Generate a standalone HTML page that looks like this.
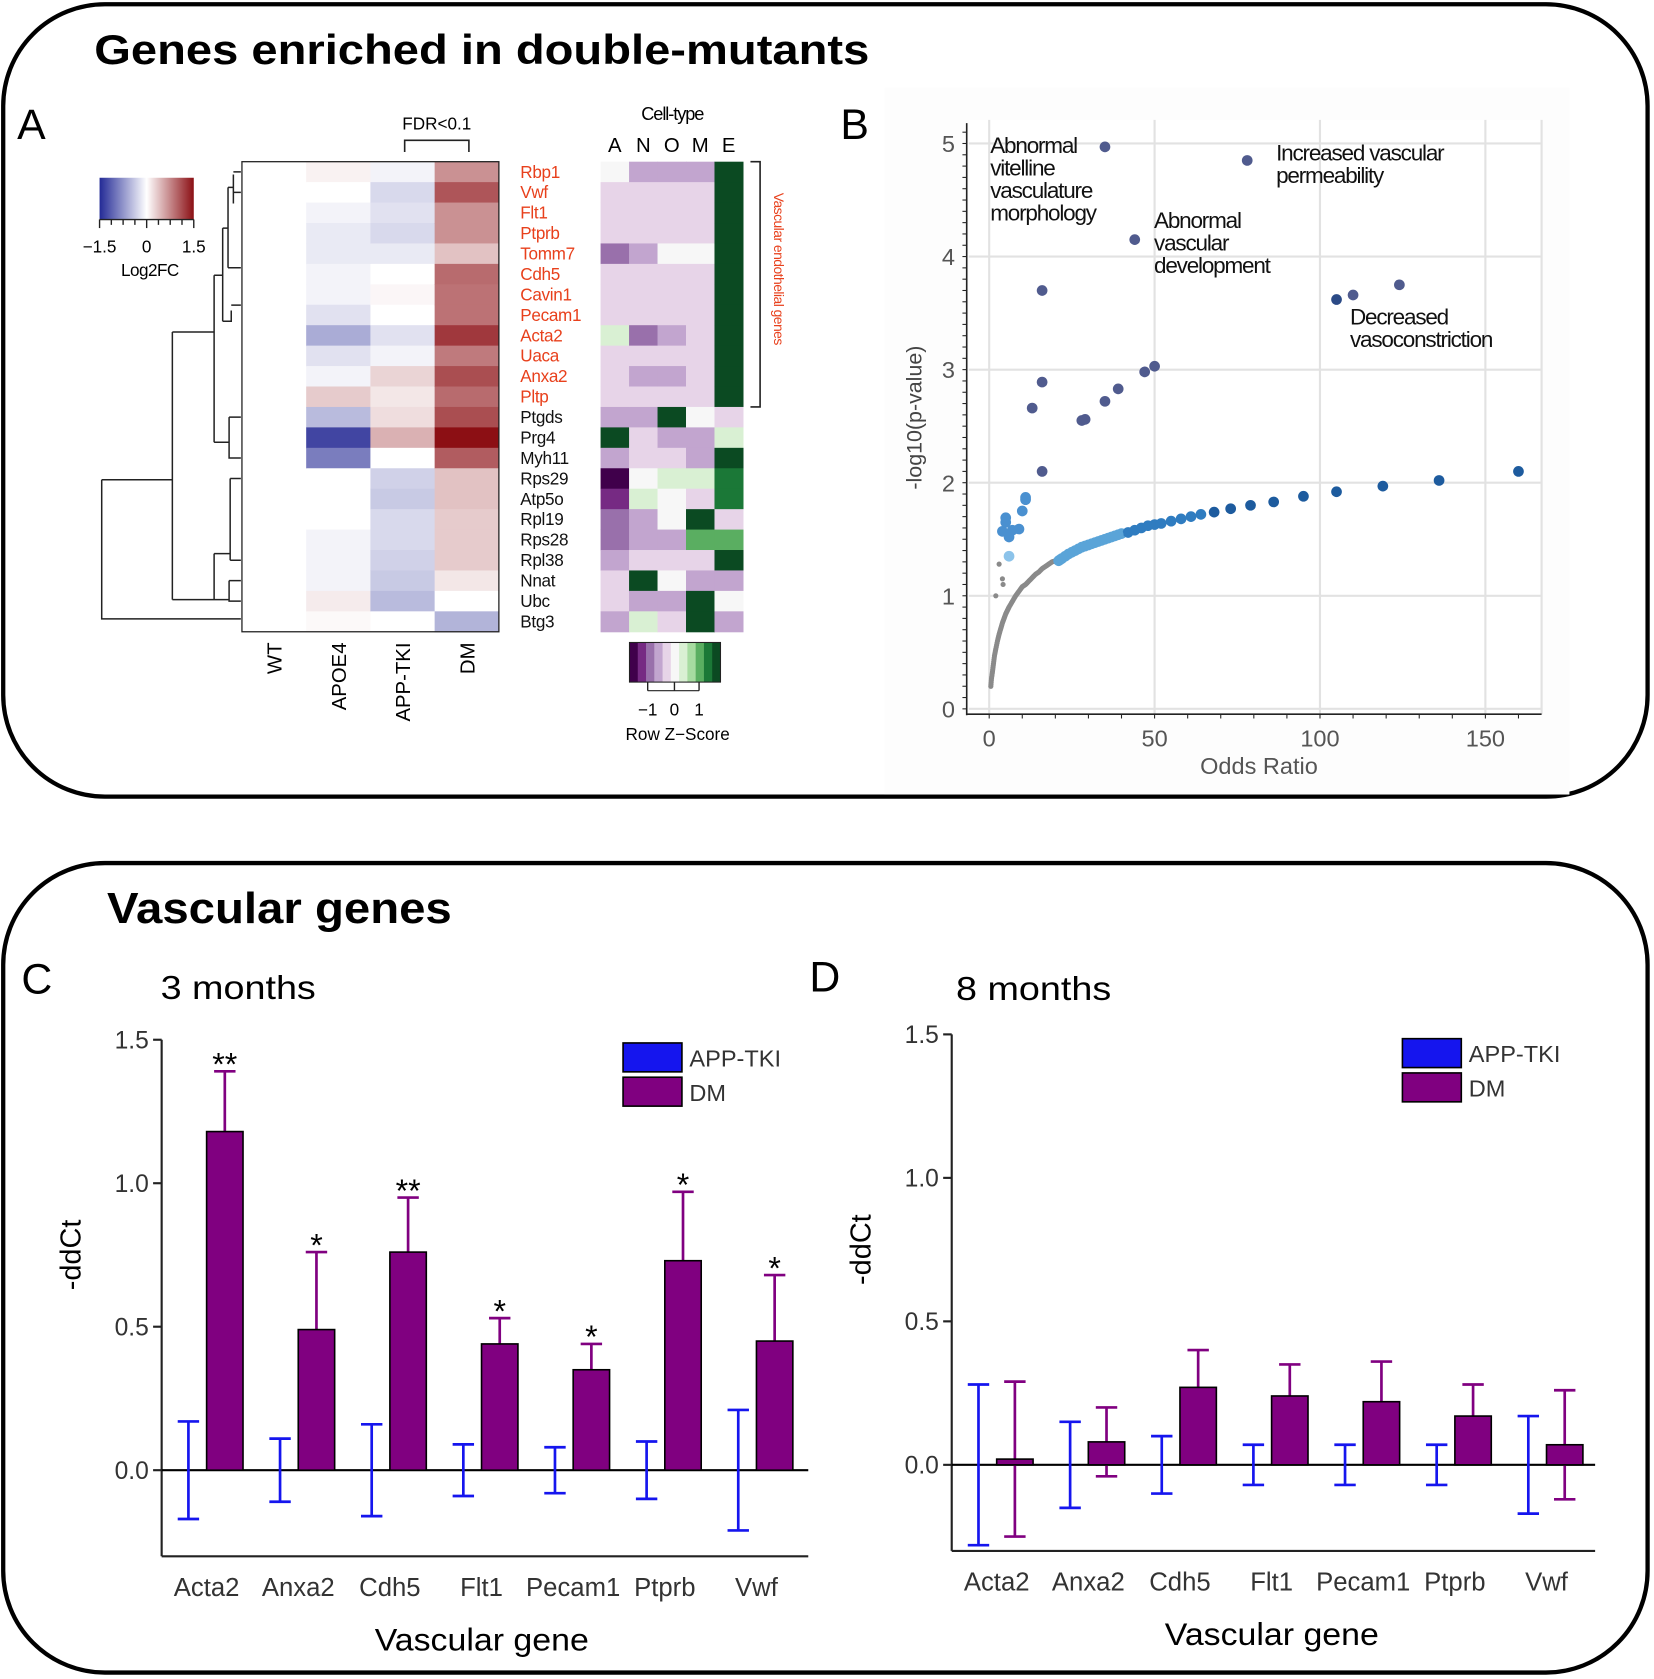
<!DOCTYPE html>
<html><head><meta charset="utf-8"><style>
html,body{margin:0;padding:0;background:#fff;}
svg{display:block;font-family:"Liberation Sans",Arial,sans-serif;}
</style></head><body>
<svg id="fig" width="1654" height="1679" viewBox="0 0 1545 1568" preserveAspectRatio="none" xmlns="http://www.w3.org/2000/svg">
<rect x="3" y="4" width="1536" height="740" rx="95" fill="none" stroke="#000" stroke-width="4"/>
<rect x="3" y="806" width="1536" height="756" rx="95" fill="none" stroke="#000" stroke-width="4"/>
<text x="88" y="60" font-size="39" font-weight="bold" textLength="724" lengthAdjust="spacingAndGlyphs">Genes enriched in double-mutants</text>
<text x="100" y="862" font-size="41" font-weight="bold" textLength="322" lengthAdjust="spacingAndGlyphs">Vascular genes</text>
<text x="16" y="130" font-size="40">A</text>
<text x="785" y="130" font-size="40">B</text>
<text x="20" y="928" font-size="40">C</text>
<text x="756" y="926" font-size="40">D</text>
<text x="150" y="933" font-size="31" textLength="145" lengthAdjust="spacingAndGlyphs">3 months</text>
<text x="893" y="934" font-size="31" textLength="145" lengthAdjust="spacingAndGlyphs">8 months</text>
<g id="gA"></g>
<g id="gB"></g>
<g id="gC"></g>
<g id="gD"></g>
</svg>
<script>
// ---------- Panel A data ----------
const genes = ["Rbp1","Vwf","Flt1","Ptprb","Tomm7","Cdh5","Cavin1","Pecam1","Acta2","Uaca","Anxa2","Pltp","Ptgds","Prg4","Myh11","Rps29","Atp5o","Rpl19","Rps28","Rpl38","Nnat","Ubc","Btg3"];
const groupsA = ["WT","APOE4","APP-TKI","DM"];
const fcWT = [0,0,0,0,0,0,0,0,0,0,0,0,0,0,0,0,0,0,0,0,0,0,0];
const fcAPOE4 = [0.05,0,-0.05,-0.1,-0.1,-0.05,-0.05,-0.15,-0.5,-0.15,-0.05,0.25,-0.4,-1.3,-0.85,0,0,0,-0.05,-0.05,-0.05,0.08,0.02];
const fcAPP = [-0.05,-0.2,-0.15,-0.2,-0.1,0,0.03,0,-0.15,-0.05,0.2,0.1,0.15,0.4,0,-0.25,-0.3,-0.2,-0.2,-0.25,-0.3,-0.4,0];
const fcDM = [0.6,1.0,0.6,0.6,0.3,0.85,0.8,0.8,1.2,0.75,1.05,0.85,1.05,1.5,0.95,0.3,0.3,0.25,0.25,0.25,0.1,0,-0.45];
const cellTypes = ["A","N","O","M","E"];
const zA = [0,-0.5,-0.5,-0.5,-1.2,-0.5,-0.5,-0.5,0.4,-0.5,-0.5,-0.5,-0.8,2,-0.8,-2,-1.6,-1.2,-1.2,-0.8,-0.5,-0.5,-0.8];
const zN = [-0.8,-0.5,-0.5,-0.5,-0.8,-0.5,-0.5,-0.5,-1.2,-0.5,-0.8,-0.5,-0.8,-0.5,-0.5,0,0.4,-0.8,-0.8,-0.5,2,-0.8,0.4];
const zO = [-0.8,-0.5,-0.5,-0.5,0,-0.5,-0.5,-0.5,-0.8,-0.5,-0.8,-0.5,2,-0.8,-0.5,0.4,0,0,-0.8,-0.5,0,-0.8,-0.5];
const zM = [-0.8,-0.5,-0.5,-0.5,0,-0.5,-0.5,-0.5,-0.5,-0.5,-0.5,-0.5,0,-0.8,-0.8,0.4,-0.5,2,1.1,-0.5,-0.8,2,2];
const zE = [2,2,2,2,2,2,2,2,2,2,2,2,-0.5,0.4,2,1.5,1.5,-0.5,1.1,2,-0.8,0,-0.8];

// ---------- Panel B data ----------
const sigX = [35,78,44,16,105,110,124,16,13,29,28,35,39,47,50,16];
const sigY = [4.97,4.85,4.15,3.70,3.62,3.66,3.75,2.89,2.66,2.56,2.55,2.72,2.83,2.98,3.03,2.10];
const lbX = [4,5,5,6,7,9,10,11,11,6];
const lbY = [1.57,1.65,1.69,1.52,1.58,1.59,1.75,1.85,1.87,1.35];
const curveX = [21,22,24,26,28,30,32,34,36,38,40,42,44,46,48,50,52,55,58,61,64,68,73,79,86,95,105,119,136,160];
const curveY = [1.31,1.33,1.37,1.40,1.43,1.45,1.47,1.49,1.51,1.53,1.55,1.56,1.58,1.60,1.62,1.63,1.64,1.66,1.68,1.70,1.72,1.74,1.77,1.80,1.83,1.88,1.92,1.97,2.02,2.10];
const grayX = [0.5,0.7,1,1.3,1.6,2,2.5,3,3.5,4,4.5,5,5.5,6,7,8,9,10,11,12,13,14,15,16,17,18,19,20,2,3,4,4.2];
const grayY = [0.2,0.27,0.33,0.4,0.47,0.53,0.6,0.66,0.71,0.76,0.8,0.84,0.87,0.9,0.95,1.0,1.04,1.08,1.1,1.13,1.16,1.19,1.21,1.24,1.26,1.28,1.3,1.31,1.0,1.28,1.15,1.1];
const bXTicks = [0,50,100,150];
const bYTicks = [0,1,2,3,4,5];

// ---------- Panel C/D data ----------
const vgenes = ["Acta2","Anxa2","Cdh5","Flt1","Pecam1","Ptprb","Vwf"];
const c_app = [0,0,0,0,0,0,0];
const c_appErr = [0.17,0.11,0.16,0.09,0.08,0.10,0.21];
const c_dm = [1.18,0.49,0.76,0.44,0.35,0.73,0.45];
const c_dmErr = [0.21,0.27,0.19,0.09,0.09,0.24,0.23];
const c_stars = ["**","*","**","*","*","*","*"];
const d_app = [0,0,0,0,0,0,0];
const d_appErr = [0.28,0.15,0.10,0.07,0.07,0.07,0.17];
const d_dm = [0.02,0.08,0.27,0.24,0.22,0.17,0.07];
const d_dmErr = [0.27,0.12,0.13,0.11,0.14,0.11,0.19];
const barTicks = [0,0.5,1.0,1.5];
const barTickLabels = ["0.0","0.5","1.0","1.5"];

const NS="http://www.w3.org/2000/svg";
function mk(parent,tag,attrs,text){const e=document.createElementNS(NS,tag);for(const k in attrs)e.setAttribute(k,attrs[k]);if(text!==undefined)e.textContent=text;parent.appendChild(e);return e;}

// ===== Panel A =====
(function(){
  const g=document.getElementById('gA');
  const hx0=226, hw=60, hy0=151, rh=(590-151)/genes.length;
  const cols=[fcWT,fcAPOE4,fcAPP,fcDM];
  function fcColor(v){
    v=Math.max(-1.5,Math.min(1.5,v));
    let t=Math.abs(v)/1.5, c0=[255,255,255], c1=v<0?[40,45,150]:[140,15,20];
    t=Math.pow(t,0.85);
    return `rgb(${c0.map((c,i)=>Math.round(c+(c1[i]-c)*t)).join(',')})`;
  }
  cols.forEach((arr,ci)=>{
    arr.forEach((v,ri)=>{
      const r=mk(g,'rect',{x:hx0+ci*hw,y:hy0+ri*rh,width:hw+0.5,height:rh+0.5,fill:fcColor(v)});
      
      
    });
    const t=mk(g,'text',{x:0,y:0,'font-size':19,transform:`translate(${hx0+ci*hw+hw/2+7},600) rotate(-90)`,'text-anchor':'end'},groupsA[ci]);
    
    
  });
  mk(g,'rect',{x:hx0,y:hy0,width:hw*4,height:rh*genes.length,fill:'none',stroke:'#222','stroke-width':1.2});
  genes.forEach((n,i)=>{
    const t=mk(g,'text',{x:486,y:hy0+(i+0.5)*rh+5.5,'font-size':16,fill:i<12?'#e8401c':'#111','letter-spacing':'-0.3'},n);
    
    
  });
  mk(g,'text',{x:408,y:121,'font-size':16,'text-anchor':'middle'},'FDR<0.1');
  mk(g,'path',{d:'M378,142 V131 H438 V142',fill:'none',stroke:'#222','stroke-width':1.5});
  const pal=['#40004b','#762a83','#9970ab','#c2a5cf','#e7d4e8','#f7f7f7','#d9f0d3','#a6dba0','#5aae61','#1b7837','#0b4a22'];
  function zColor(v){const b=[-1.8,-1.4,-1.0,-0.65,-0.25,0.25,0.6,0.9,1.3,1.7];let i=0;while(i<b.length&&v>b[i])i++;return pal[i];}
  const zx0=561, zw=(694-561)/5;
  [zA,zN,zO,zM,zE].forEach((arr,ci)=>{
    arr.forEach((v,ri)=>{
      const r=mk(g,'rect',{x:zx0+ci*zw,y:hy0+ri*rh,width:zw+0.5,height:rh+0.5,fill:zColor(v)});
      
      
    });
    mk(g,'text',{x:zx0+ci*zw+zw/2,y:142,'font-size':19,'text-anchor':'middle'},cellTypes[ci]);
  });
  mk(g,'text',{x:628,y:112,'font-size':17,'text-anchor':'middle','letter-spacing':'-1'},'Cell-type');
  mk(g,'path',{d:`M701,${hy0} H710 V380 H701`,fill:'none',stroke:'#222','stroke-width':1.5});
  mk(g,'text',{x:0,y:0,'font-size':13,fill:'#e8401c',transform:'translate(723,180) rotate(90)','letter-spacing':'-0.5'},'Vascular endothelial genes');
  const defs=mk(g,'defs',{});
  const lg=mk(defs,'linearGradient',{id:'fcg',x1:0,x2:1,y1:0,y2:0});
  [[0,'#232a96'],[0.5,'#ffffff'],[1,'#8b0f14']].forEach(s=>mk(lg,'stop',{offset:s[0],'stop-color':s[1]}));
  mk(g,'rect',{x:93,y:166,width:88,height:39,fill:'url(#fcg)'});
  for(let i=0;i<=8;i++){mk(g,'line',{x1:93+i*11,x2:93+i*11,y1:205,y2:i%4==0?213:210,stroke:'#222','stroke-width':1.3});}
  mk(g,'line',{x1:93,x2:181,y1:205,y2:205,stroke:'#222','stroke-width':1.3});
  mk(g,'text',{x:93,y:236,'font-size':16,'text-anchor':'middle'},'\u22121.5');
  mk(g,'text',{x:137,y:236,'font-size':16,'text-anchor':'middle'},'0');
  mk(g,'text',{x:181,y:236,'font-size':16,'text-anchor':'middle'},'1.5');
  mk(g,'text',{x:140,y:258,'font-size':16,'text-anchor':'middle','letter-spacing':'-0.5'},'Log2FC');
  const zbw=(673-588)/pal.length;
  pal.forEach((c,i)=>mk(g,'rect',{x:588+i*zbw,y:600,width:zbw+0.5,height:37,fill:c}));
  mk(g,'rect',{x:588,y:600,width:85,height:37,fill:'none',stroke:'#222','stroke-width':1});
  [[605,'\u22121'],[630,'0'],[653,'1']].forEach(p=>{mk(g,'line',{x1:p[0],x2:p[0],y1:637,y2:645,stroke:'#222','stroke-width':1.3});mk(g,'text',{x:p[0],y:668,'font-size':16,'text-anchor':'middle'},p[1]);});
  mk(g,'line',{x1:605,x2:653,y1:645,y2:645,stroke:'#222','stroke-width':1});
  mk(g,'text',{x:633,y:691,'font-size':16,'text-anchor':'middle'},'Row Z\u2212Score');
  const yc=i=>hy0+(i+0.5)*rh;
  const dpath=`M95,448 V578 H225 M95,448 H161 M161,310 V560 M161,310 H200 M200,257 V413 M200,257 H208 M208,213 V300 M208,300 H216 V290 M216,285 H225 M208,213 H213 M213,175 V250 M213,175 H218 M218,163 V190 M218,${yc(0)} H225 M218,${yc(1)} H225 M213,250 H225 M200,413 H214 M214,${yc(12)} V${yc(14)} H225 M214,${yc(12)} H225 M161,560 H200 M200,517 V560 M200,517 H215 M215,${yc(15)} V${yc(19)} M200,560 H214 M214,${yc(20)} V${yc(21)} H225 M214,${yc(20)} H225 M215,${yc(15)} H225 M215,${yc(19)} H225`;
  const dp=mk(g,'path',{d:dpath,fill:'none',stroke:'#222','stroke-width':1.4});
  
  
})();

// ===== Panel B =====
(function(){
  const g=document.getElementById('gB');
  const X=v=>924+v*3.09, Y=v=>662-v*105.6;
  mk(g,'rect',{x:826,y:82,width:640,height:660,fill:'#fdfdfd'});
  mk(g,'rect',{x:905,y:112,width:535,height:555,fill:'#fff'});
  bXTicks.forEach(t=>mk(g,'line',{x1:X(t),x2:X(t),y1:112,y2:667,stroke:'#e2e2e2','stroke-width':2}));
  bYTicks.forEach(t=>mk(g,'line',{x1:905,x2:1440,y1:Y(t),y2:Y(t),stroke:'#e2e2e2','stroke-width':2}));
  mk(g,'line',{x1:1440,x2:1440,y1:112,y2:667,stroke:'#e2e2e2','stroke-width':2});
  mk(g,'line',{x1:903,x2:903,y1:115,y2:668,stroke:'#222','stroke-width':1.5});
  mk(g,'line',{x1:903,x2:1440,y1:667,y2:667,stroke:'#222','stroke-width':1.5});
  for(let v=0;v<=5.1;v+=0.1){mk(g,'line',{x1:899,x2:903,y1:Y(v),y2:Y(v),stroke:'#222','stroke-width':1});}
  for(let v=0;v<=160;v+=10){mk(g,'line',{x1:X(v),x2:X(v),y1:667,y2:671,stroke:'#222','stroke-width':1});}
  bYTicks.forEach(t=>{const e=mk(g,'text',{x:892,y:Y(t)+8,'font-size':22,fill:'#555','text-anchor':'end'},String(t));});
  bXTicks.forEach(t=>{const e=mk(g,'text',{x:X(t),y:697,'font-size':22,fill:'#555','text-anchor':'middle'},String(t));});
  const xt=mk(g,'text',{x:1176,y:723,'font-size':22,fill:'#555','text-anchor':'middle'},'Odds Ratio');
  
  const yt=mk(g,'text',{x:0,y:0,'font-size':20,fill:'#444','text-anchor':'middle',transform:'translate(861,390) rotate(-90)'},'-log10(p-value)');
  
  grayX.forEach((x,i)=>{const c=mk(g,'circle',{cx:X(x),cy:Y(grayY[i]),r:2.4,fill:'#8a8a8a'});});
  for(let i=0;i<27;i++){for(let k=1;k<4;k++){const x=grayX[i]+(grayX[i+1]-grayX[i])*k/4,y=grayY[i]+(grayY[i+1]-grayY[i])*k/4;mk(g,'circle',{cx:X(x),cy:Y(y),r:2.4,fill:'#8a8a8a'});}}
  curveX.forEach((x,i)=>{
    const t=i/(curveX.length-1);
    const col=t<0.35?'#5aa4d8':(t<0.7?'#2f7cc0':'#1d5b9e');
    const c=mk(g,'circle',{cx:X(x),cy:Y(curveY[i]),r:5,fill:col});
    
    
  });
  for(let i=0;i<10;i++){const x=curveX[i]+(curveX[i+1]-curveX[i])/2,y=(curveY[i]+curveY[i+1])/2;mk(g,'circle',{cx:X(x),cy:Y(y),r:5,fill:'#5aa4d8'});}
  lbX.forEach((x,i)=>{const c=mk(g,'circle',{cx:X(x),cy:Y(lbY[i]),r:5,fill:i==9?'#8cc3ea':'#4a90d0'});});
  sigX.forEach((x,i)=>{const c=mk(g,'circle',{cx:X(x),cy:Y(sigY[i]),r:5,fill:i==4?'#2b4a86':'#505b8e'});});
  const ann=[[925,143,['Abnormal','vitelline','vasculature','morphology']],[1192,150,['Increased vascular','permeability']],[1078,213,['Abnormal','vascular','development']],[1261,303,['Decreased','vasoconstriction']]];
  ann.forEach(a=>a[2].forEach((s,j)=>{const e=mk(g,'text',{x:a[0],y:a[1]+j*21,'font-size':21,fill:'#111','letter-spacing':'-1.1'},s);}));
})();

// ===== Panels C/D =====
function barChart(id,ax,zeroY,right,app,appErr,dm,dmErr,stars,groupStart,legX,legY,titleX){
  const g=document.getElementById(id);
  const Y=v=>zeroY-v*268;
  const bottom=Y(-0.3);
  mk(g,'line',{x1:ax,x2:ax,y1:Y(1.5),y2:bottom,stroke:'#222','stroke-width':2});
  mk(g,'line',{x1:ax,x2:right,y1:bottom,y2:bottom,stroke:'#222','stroke-width':2});
  mk(g,'line',{x1:ax,x2:right,y1:Y(0),y2:Y(0),stroke:'#000','stroke-width':2});
  barTicks.forEach((t,i)=>{
    mk(g,'line',{x1:ax-8,x2:ax,y1:Y(t),y2:Y(t),stroke:'#222','stroke-width':2});
    const e=mk(g,'text',{x:ax-12,y:Y(t)+8,'font-size':23,fill:'#333','text-anchor':'end'},barTickLabels[i]);
    
  });
  const sp=85.6;
  vgenes.forEach((n,i)=>{
    const cx=groupStart+i*sp;
    const bx=cx, dx=cx+34;
    const a=mk(g,'rect',{x:bx-17,y:Math.min(Y(app[i]),Y(0)),width:34,height:Math.abs(Y(app[i])-Y(0)),fill:'#1515ee',stroke:'#000','stroke-width':1.5});
    
    const ea=mk(g,'path',{d:`M${bx},${Y(app[i]+appErr[i])} V${Y(app[i]-appErr[i])} M${bx-10},${Y(app[i]+appErr[i])} H${bx+10} M${bx-10},${Y(app[i]-appErr[i])} H${bx+10}`,stroke:'#1515ee','stroke-width':2.5,fill:'none'});
    
    const ed=mk(g,'path',{d:`M${dx},${Y(dm[i]+dmErr[i])} V${Y(dm[i]-dmErr[i])} M${dx-10},${Y(dm[i]+dmErr[i])} H${dx+10} M${dx-10},${Y(dm[i]-dmErr[i])} H${dx+10}`,stroke:'#800080','stroke-width':2.5,fill:'none'});
    
    const b=mk(g,'rect',{x:dx-17,y:Math.min(Y(dm[i]),Y(0)),width:34,height:Math.abs(Y(dm[i])-Y(0)),fill:'#800080',stroke:'#000','stroke-width':1.5});
    
    if(stars){const s=mk(g,'text',{x:dx,y:Y(dm[i]+dmErr[i])+4,'font-size':30,'text-anchor':'middle'},stars[i]);}
    const t=mk(g,'text',{x:cx+17,y:bottom+37,'font-size':24,fill:'#333','text-anchor':'middle'},n);
    
  });
  const yt=mk(g,'text',{x:0,y:0,'font-size':27,'text-anchor':'middle',transform:`translate(${ax-76},${Y(0.75)}) rotate(-90)`},'-ddCt');
  
  const xt=mk(g,'text',{x:titleX,y:bottom+88,'font-size':29,'text-anchor':'middle',textLength:200,lengthAdjust:'spacingAndGlyphs'},'Vascular gene');
  
  const l1=mk(g,'rect',{x:legX,y:legY,width:55,height:27,fill:'#1515ee',stroke:'#000','stroke-width':1.5});
  
  const l2=mk(g,'rect',{x:legX,y:legY+32,width:55,height:27,fill:'#800080',stroke:'#000','stroke-width':1.5});
  
  const t1=mk(g,'text',{x:legX+62,y:legY+22,'font-size':22,fill:'#333'},'APP-TKI');
  
  const t2=mk(g,'text',{x:legX+62,y:legY+54,'font-size':22,fill:'#333'},'DM');
  
}
barChart('gC',151,1373,755,c_app,c_appErr,c_dm,c_dmErr,c_stars,176,582,974,450);
barChart('gD',889,1368,1490,d_app,d_appErr,d_dm,d_dmErr,null,914,1310,970,1188);
</script>
</body></html>
